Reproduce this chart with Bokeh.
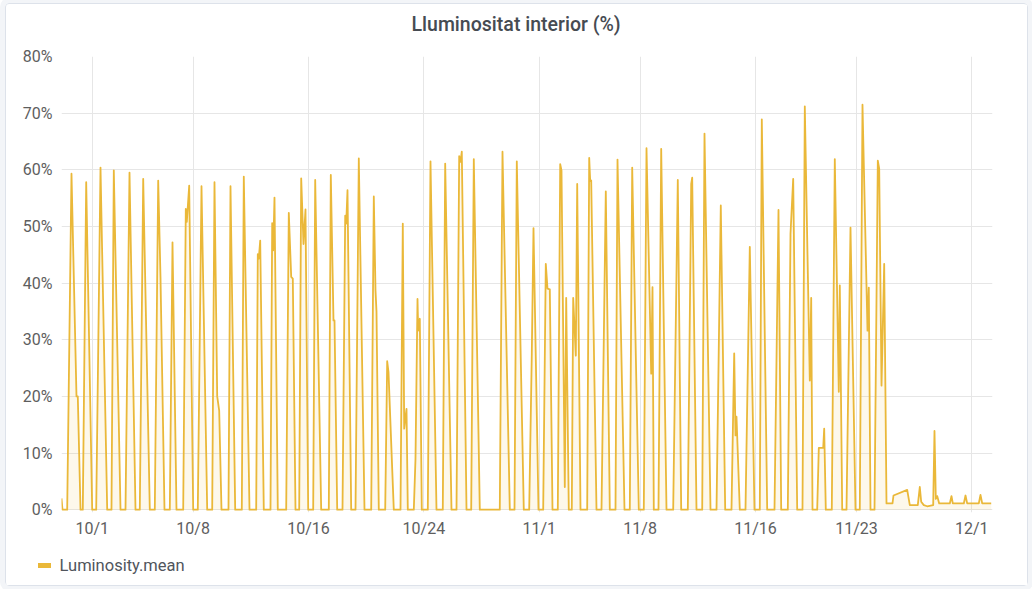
from bokeh.plotting import figure
from bokeh.layouts import column
from bokeh.models import (Range1d, FixedTicker, PrintfTickFormatter, Legend, Title,
                          LegendItem, ColumnDataSource, InlineStyleSheet)
from bokeh.embed import file_html
from bokeh.resources import INLINE

# ---- data: time in days since 10/1 00:00, luminosity mean in % ----
t_days = [
    -2.129, -2.060,
    -1.734, -1.436, -1.089, -0.999, -0.811,
    -0.652, -0.416, 0.000,
    0.277, 0.576, 1.040,
    1.338, 1.498, 1.963,
    2.309, 2.587, 3.003,
    3.301, 3.537, 3.995,
    4.341, 4.577, 4.737, 5.014,
    5.382, 5.569, 5.846,
    6.311, 6.491, 6.561, 6.727, 7.004,
    7.323, 7.580, 7.975,
    8.322, 8.481, 8.669, 8.807, 8.967,
    9.452, 9.591, 9.917,
    10.375, 10.513, 10.909,
    11.373, 11.484, 11.554, 11.651, 11.900,
    12.365, 12.483, 12.552, 12.642, 12.871,
    13.454, 13.634, 13.801, 13.912, 14.099,
    14.355, 14.494, 14.654, 14.792, 14.980,
    15.326, 15.465, 15.881,
    16.408, 16.547, 16.734, 16.804, 16.991,
    17.358, 17.546, 17.615, 17.705, 17.962,
    18.260, 18.489, 18.884,
    19.349, 19.529, 19.647, 19.716, 19.876,
    20.320, 20.458, 20.548, 20.805, 20.916,
    21.381, 21.540, 21.637, 21.797, 21.887,
    22.303, 22.421, 22.560, 22.608, 22.719, 22.858,
    23.274, 23.461, 23.877,
    24.314, 24.480, 24.917,
    25.264, 25.451, 25.542, 25.632, 25.958,
    26.284, 26.464, 26.880,
    28.267, 28.454, 28.961,
    29.287, 29.446, 29.931,
    30.306, 30.486, 30.604, 30.951,
    31.277, 31.457, 31.575, 31.735, 31.922,
    32.289, 32.456, 32.546, 32.775, 32.872, 33.052,
    33.260, 33.357, 33.538, 33.635, 33.864,
    34.328, 34.467, 34.536, 34.606, 34.973,
    35.320, 35.618, 35.896,
    36.291, 36.430, 36.915,
    37.283, 37.449, 37.907,
    38.253, 38.441, 38.767, 38.857, 38.947,
    39.273, 39.460, 39.828,
    40.292, 40.611, 40.847,
    41.305, 41.541, 41.610, 41.908,
    42.304, 42.463, 42.879,
    43.295, 43.593, 43.899,
    44.335, 44.523, 44.613, 44.682, 44.911,
    45.306, 45.605, 45.930,
    46.298, 46.437, 46.811,
    47.317, 47.595, 47.782,
    48.240, 48.427, 48.614, 48.892,
    49.259, 49.419, 49.766, 49.863, 49.953,
    50.279, 50.390, 50.695, 50.764, 50.875,
    51.291, 51.499, 51.777, 51.846, 52.013,
    52.311, 52.588, 52.935,
    53.233, 53.420, 53.767, 53.857, 53.975,
    54.253, 54.482, 54.579, 54.739, 54.925, 55.085,
    55.501, 55.570, 56.520, 56.701, 57.255, 57.394, 57.491, 57.671, 57.907,
    58.323, 58.413, 58.504, 58.601, 58.739, 59.475, 59.593, 59.683,
    60.446, 60.564, 60.681, 61.485, 61.603, 61.722, 62.346,
]
lum = [
    2.0, 0,
    0, 59.3, 20.0, 20.0, 0,
    0, 57.8, 0,
    0, 60.4, 0,
    0, 59.9, 0,
    0, 59.5, 0,
    0, 58.4, 0,
    0, 58.1, 41.0, 0,
    0, 47.2, 0,
    0, 53.1, 50.8, 57.2, 0,
    0, 57.1, 0,
    0, 57.8, 20.0, 17.5, 0,
    0, 57.1, 0,
    0, 58.8, 0,
    0, 45.1, 44.3, 47.5, 0,
    0, 50.6, 45.8, 55.1, 0,
    0, 52.4, 41.1, 40.8, 0,
    0, 58.5, 46.9, 53.0, 0,
    0, 58.2, 0,
    0, 59.1, 33.4, 33.4, 0,
    0, 51.9, 50.5, 56.4, 0,
    0, 62.0, 0,
    0, 55.3, 38.7, 35.0, 0,
    0, 26.2, 24.3, 7.2, 0,
    0, 50.5, 14.3, 17.8, 0,
    0, 9.0, 37.2, 31.6, 33.7, 0,
    0, 61.5, 0,
    0, 61.1, 0,
    0, 62.4, 61.4, 63.2, 0,
    0, 61.9, 0,
    0, 63.2, 0,
    0, 61.5, 0,
    0, 27.5, 49.7, 0,
    0, 43.4, 39.0, 38.9, 0,
    0, 61.0, 59.9, 4.0, 37.4, 0,
    0, 37.4, 27.2, 57.5, 0,
    0, 62.1, 58.0, 58.1, 0,
    0, 56.2, 0,
    0, 61.8, 0,
    0, 60.4, 0,
    0, 63.8, 24.0, 39.3, 0,
    0, 63.7, 0,
    0, 58.2, 0,
    0, 57.5, 58.6, 0,
    0, 66.4, 0,
    0, 53.7, 0,
    0, 27.6, 13.1, 16.4, 0,
    0, 46.4, 0,
    0, 68.9, 0,
    0, 52.9, 0,
    0, 48.7, 58.4, 0,
    0, 71.2, 22.8, 37.4, 0,
    0, 10.9, 10.9, 14.3, 0,
    0, 61.9, 20.8, 39.6, 0,
    0, 49.8, 0,
    0, 71.5, 31.6, 39.2, 0,
    0, 61.6, 60.2, 21.9, 43.4, 1.1,
    1.1, 2.5, 3.5, 0.8, 0.8, 4.0, 1.4, 0.8, 0.6,
    0.8, 13.9, 1.9, 2.4, 1.1, 1.1, 2.4, 1.1,
    1.1, 2.5, 1.1, 1.1, 2.6, 1.1, 1.1,
]

tick_labels = ["10/1", "10/8", "10/16", "10/24", "11/1", "11/8", "11/16", "11/23", "12/1"]
tick_days = [0, 7, 15, 23, 31, 38, 46, 53, 61]
y_ticks = [0, 10, 20, 30, 40, 50, 60, 70, 80]

title_text = "Lluminositat interior (%)"
series_name = "Luminosity.mean"

COLOR = "#EAB839"
GRID = "#e6e6e6"
FONT = "Roboto"

W = 1021
H_MAIN, H_LEG = 540, 41

# ---------------- main chart ----------------
p = figure(width=W, height=H_MAIN, output_backend="svg", toolbar_location=None,
           x_range=Range1d(-2.129, 62.436), y_range=Range1d(-0.5, 80),
           min_border_left=55, min_border_right=35, min_border_top=52, min_border_bottom=32)
p.frame_align = False
p.outline_line_color = None
p.background_fill_color = "white"
p.border_fill_color = "white"

src = ColumnDataSource(dict(t=t_days, v=lum))
p.varea(x="t", y1=0, y2="v", source=src, fill_color=COLOR, fill_alpha=0.1)
p.line("t", "v", source=src, line_color=COLOR, line_width=1.8, line_join="round")

p.xaxis.ticker = FixedTicker(ticks=tick_days)
p.xaxis.major_label_overrides = {d: s for d, s in zip(tick_days, tick_labels)}
p.yaxis.ticker = FixedTicker(ticks=y_ticks)
p.yaxis.formatter = PrintfTickFormatter(format="%d%%")
for ax in (p.xaxis, p.yaxis):
    ax.axis_line_color = None
    ax.major_tick_line_color = None
    ax.minor_tick_line_color = None
    ax.major_tick_out = 0
    ax.major_tick_in = 0
    ax.major_label_text_font = FONT
    ax.major_label_text_font_size = "16px"
    ax.major_label_text_color = "#5e5e5e"
p.xaxis.major_label_standoff = 6
p.yaxis.major_label_standoff = 9

p.xgrid.ticker = FixedTicker(ticks=tick_days)
p.ygrid.ticker = FixedTicker(ticks=y_ticks)
p.xgrid.grid_line_color = GRID
p.ygrid.grid_line_color = GRID

# white spacer next to the frame, then the visible title above it
p.add_layout(Title(text=".", text_font_size="1px", text_color="white", standoff=18), "above")
p.add_layout(Title(text=title_text, align="left", offset=350, vertical_align="bottom",
                   standoff=0, text_font="'Roboto Medium', Roboto", text_font_style="normal",
                   text_font_size="19.5px", text_color="#464b52"), "above")

# ---------------- legend strip ----------------
q = figure(width=W, height=H_LEG, output_backend="svg", toolbar_location=None,
           x_range=Range1d(0, 1), y_range=Range1d(0, 1), x_axis_type=None, y_axis_type=None,
           min_border_left=0, min_border_right=0, min_border_top=0, min_border_bottom=0)
q.frame_align = False
q.outline_line_color = None
q.grid.visible = False
q.background_fill_color = "white"
q.border_fill_color = "white"
swatch = q.line(x=[-1], y=[-1], line_color=COLOR, line_width=5, line_cap="round")
legend = Legend(items=[LegendItem(label=series_name, renderers=[swatch])],
                location=(31.5, 10), padding=0, spacing=0, margin=0,
                glyph_width=13, glyph_height=20, label_height=20, label_standoff=9,
                label_text_font=FONT, label_text_font_size="16.5px",
                label_text_color="#50555c", border_line_color=None,
                background_fill_alpha=0)
q.add_layout(legend)

layout = column(p, q, spacing=0)
layout.stylesheets = [InlineStyleSheet(css=":host { margin: 3px 0 0 5px; border: 1px solid #dde2ea; "
                                           "border-radius: 4px; box-shadow: 0 0 0 5px #f3f5f8; }")]

open("out.html", "w").write(file_html(layout, INLINE))
